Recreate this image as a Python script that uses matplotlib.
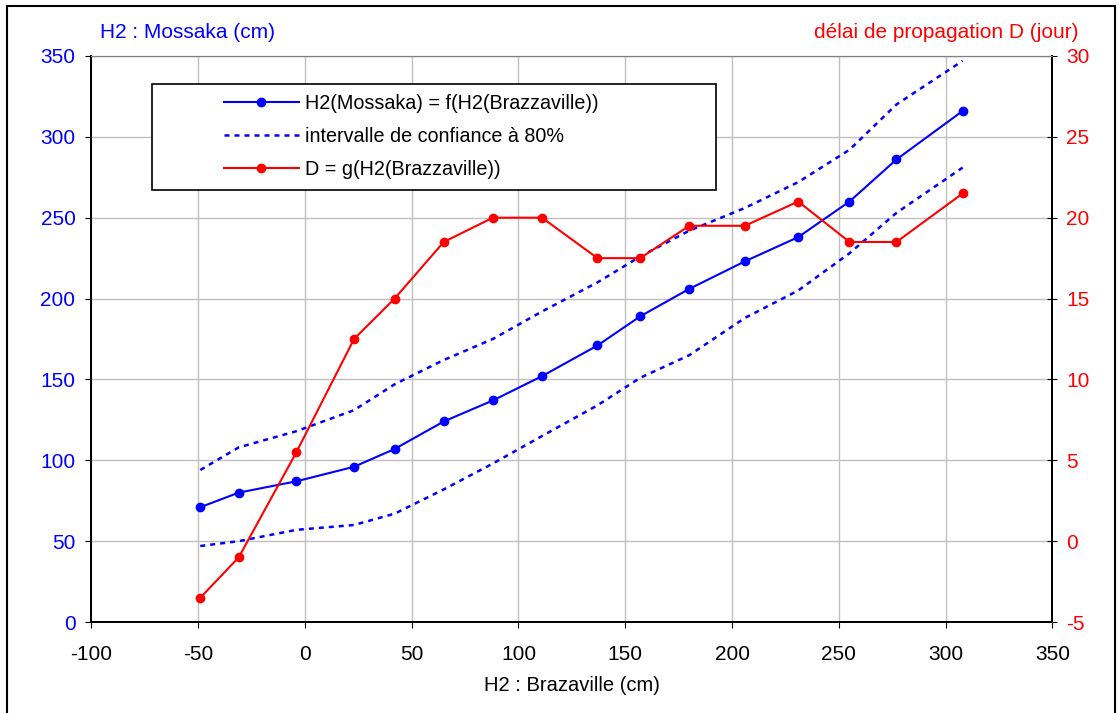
import matplotlib
matplotlib.use("Agg")
import matplotlib.pyplot as plt
from matplotlib.patches import Rectangle

plt.rcParams['font.family'] = ['Liberation Sans', 'DejaVu Sans']
plt.rcParams['axes.unicode_minus'] = False

# hauteurs a Brazzaville (cm)
h2_brazza = [-49, -31, -4, 23, 42, 65, 88, 111, 137, 157, 180, 206, 231, 255, 277, 308]
# H2 Mossaka estime (cm)
h2_mossaka = [71, 80, 87, 96, 107, 124, 137, 152, 171, 189, 206, 223, 238, 260, 286, 316]
# intervalle de confiance 80%
ic_haut = [94, 108, 118, 131, 147, 162, 175, 192, 210, 226, 242, 256, 272, 292, 320, 347]
ic_bas = [47, 50, 57, 60, 67, 82, 98, 115, 134, 151, 165, 188, 205, 228, 253, 281]
# delai de propagation (jours)
delai = [-3.5, -1, 5.5, 12.5, 15, 18.5, 20, 20, 17.5, 17.5, 19.5, 19.5, 21, 18.5, 18.5, 21.5]

BLEU = '#0000ff'
ROUGE = '#ff0000'

fig = plt.figure(figsize=(11.2, 7.13), dpi=100)
ax = fig.add_axes([0.0816, 0.1276, 0.858, 0.7939])
ax2 = ax.twinx()

l1, = ax.plot(h2_brazza, h2_mossaka, color=BLEU, lw=1.5, marker='o', ms=6,
              label='H2(Mossaka) = f(H2(Brazzaville))')
l2, = ax.plot(h2_brazza, ic_haut, color=BLEU, lw=1.8, ls=(0, (2, 2)),
              label='intervalle de confiance à 80%')
ax.plot(h2_brazza, ic_bas, color=BLEU, lw=1.8, ls=(0, (2, 2)))
l3, = ax2.plot(h2_brazza, delai, color=ROUGE, lw=1.5, marker='o', ms=6,
               label='D = g(H2(Brazzaville))')

ax.set_xlim(-100, 350)
ax.set_xticks(range(-100, 351, 50))
ax.set_ylim(0, 350)
ax.set_yticks(range(0, 351, 50))
ax2.set_ylim(-5, 30)
ax2.set_yticks(range(-5, 31, 5))

ax.grid(True, color='#c0c0c0', lw=1)
ax.set_axisbelow(True)

ax.tick_params(axis='x', labelsize=15, colors='black', length=4.5, pad=12)
ax.tick_params(axis='y', labelsize=15, labelcolor=BLEU, length=4.5, pad=7)
ax2.tick_params(axis='y', labelsize=15, labelcolor=ROUGE, direction='inout', length=7.5, pad=6)

for a in (ax, ax2):
    a.spines['top'].set_color('#808080')
    for s in ('left', 'right', 'bottom'):
        a.spines[s].set_color('black')
        a.spines[s].set_linewidth(1.3)

ax.set_xlabel('H2 : Brazaville (cm)', fontsize=14.5, labelpad=9)

fig.text(0.089, 0.955, 'H2 : Mossaka (cm)', color=BLEU, fontsize=15, va='center', ha='left')
fig.text(0.963, 0.955, 'délai de propagation D (jour)', color=ROUGE, fontsize=15,
         va='center', ha='right')

# cadre de la legende
ax2.add_patch(Rectangle((0.063, 0.763), 0.587, 0.188, transform=ax2.transAxes,
                        facecolor='white', edgecolor='black', lw=1.2, zorder=5))
leg = ax2.legend(handles=[l1, l2, l3], loc='upper left', bbox_to_anchor=(0.138, 0.933),
                 frameon=False, fontsize=14.2, handlelength=3.8, handletextpad=0.3,
                 labelspacing=0.7, borderaxespad=0, borderpad=0)
leg.set_zorder(6)

# bordure exterieure
fig.add_artist(Rectangle((0.0062, -0.01), 0.9893, 1.0016, transform=fig.transFigure,
                         fill=False, edgecolor='black', lw=1.5))

fig.savefig('out.png', dpi=100)
